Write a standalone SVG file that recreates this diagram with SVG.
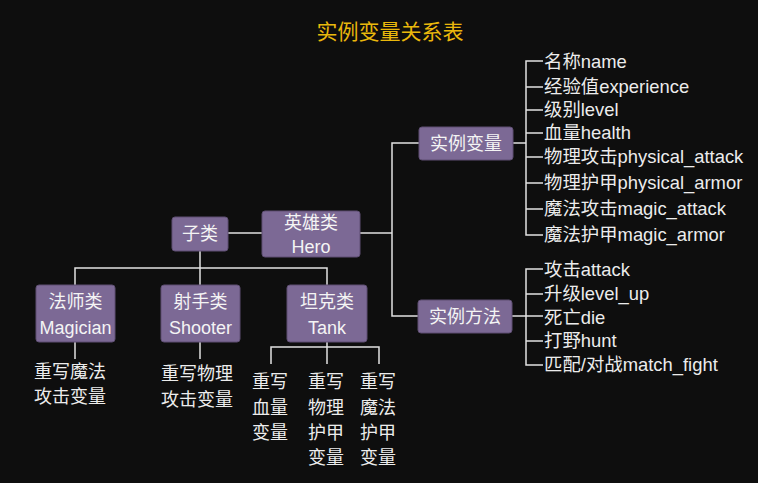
<svg xmlns="http://www.w3.org/2000/svg" width="758" height="483" viewBox="0 0 758 483">
<style>
.bg{fill:#0e0e0e}
.node rect{fill:#7c6995;stroke:#5e4f72;stroke-width:1}
text{font-family:"Liberation Sans","Noto Sans CJK SC",sans-serif;font-size:18px;fill:#ececec}
.node text{text-anchor:middle;fill:#f4f4f4}
.title{font-size:21px;fill:#eab80c;text-anchor:middle}
.lbl{text-anchor:middle}
.item{font-size:18.4px}
#connectors path{fill:none;stroke:#e2e2e2;stroke-width:1.5}
</style>
<rect class="bg" x="0" y="0" width="758" height="483"/>
<text class="title" x="390" y="39">实例变量关系表</text>
<g id="connectors">
<path d="M228,233 H262"/>
<path d="M200,251 V285"/>
<path d="M75,285 V268 H327 V285"/>
<path d="M75,342 V359"/>
<path d="M200,342 V359"/>
<path d="M327,342 V347"/>
<path d="M271,364 V347 H379 V364"/>
<path d="M327,347 V364"/>
<path d="M360,233 H392"/>
<path d="M419,143 H392 V316 H418"/>
<path d="M513,143 H526"/>
<path d="M543,61 H526 V235 H543"/>
<path d="M526,87 H543 M526,110 H543 M526,133 H543 M526,157 H543 M526,183 H543 M526,209 H543"/>
<path d="M512,316 H543"/>
<path d="M543,269 H526 V365 H543"/>
<path d="M526,294 H543 M526,341 H543"/>
</g>
<g id="n-zilei" class="node"><rect x="172" y="217" width="56" height="34" rx="3"/><text x="200" y="240">子类</text></g>
<g id="n-hero" class="node"><rect x="262" y="211" width="98" height="46" rx="3"/><text x="311" y="229">英雄类</text><text x="311" y="253">Hero</text></g>
<g id="n-magician" class="node"><rect x="36" y="285" width="79" height="57" rx="3"/><text x="75.5" y="308">法师类</text><text x="75.5" y="334">Magician</text></g>
<g id="n-shooter" class="node"><rect x="161" y="285" width="79" height="57" rx="3"/><text x="200.5" y="308">射手类</text><text x="200.5" y="334">Shooter</text></g>
<g id="n-tank" class="node"><rect x="287" y="285" width="80" height="57" rx="3"/><text x="327" y="308">坦克类</text><text x="327" y="334">Tank</text></g>
<g id="n-var" class="node"><rect x="419" y="127" width="94" height="33" rx="3"/><text x="466" y="150">实例变量</text></g>
<g id="n-method" class="node"><rect x="418" y="300" width="94" height="33" rx="3"/><text x="465" y="323">实例方法</text></g>
<g id="t-magician"><text class="lbl" x="70" y="378">重写魔法</text><text class="lbl" x="70" y="403">攻击变量</text></g>
<g id="t-shooter"><text class="lbl" x="197" y="380">重写物理</text><text class="lbl" x="197" y="406">攻击变量</text></g>
<g id="t-tank1"><text class="lbl" x="270" y="388">重写</text><text class="lbl" x="270" y="414">血量</text><text class="lbl" x="270" y="439">变量</text></g>
<g id="t-tank2"><text class="lbl" x="326" y="388">重写</text><text class="lbl" x="326" y="414">物理</text><text class="lbl" x="326" y="439">护甲</text><text class="lbl" x="326" y="464">变量</text></g>
<g id="t-tank3"><text class="lbl" x="378" y="388">重写</text><text class="lbl" x="378" y="414">魔法</text><text class="lbl" x="378" y="439">护甲</text><text class="lbl" x="378" y="464">变量</text></g>
<g id="vars">
<text class="item" x="544" y="68">名称name</text>
<text class="item" x="544" y="93">经验值experience</text>
<text class="item" x="544" y="116">级别level</text>
<text class="item" x="544" y="139">血量health</text>
<text class="item" x="544" y="163">物理攻击physical_attack</text>
<text class="item" x="544" y="189">物理护甲physical_armor</text>
<text class="item" x="544" y="215">魔法攻击magic_attack</text>
<text class="item" x="544" y="241">魔法护甲magic_armor</text>
</g>
<g id="methods">
<text class="item" x="544" y="276">攻击attack</text>
<text class="item" x="544" y="300">升级level_up</text>
<text class="item" x="544" y="324">死亡die</text>
<text class="item" x="544" y="347">打野hunt</text>
<text class="item" x="544" y="371">匹配/对战match_fight</text>
</g>
</svg>
